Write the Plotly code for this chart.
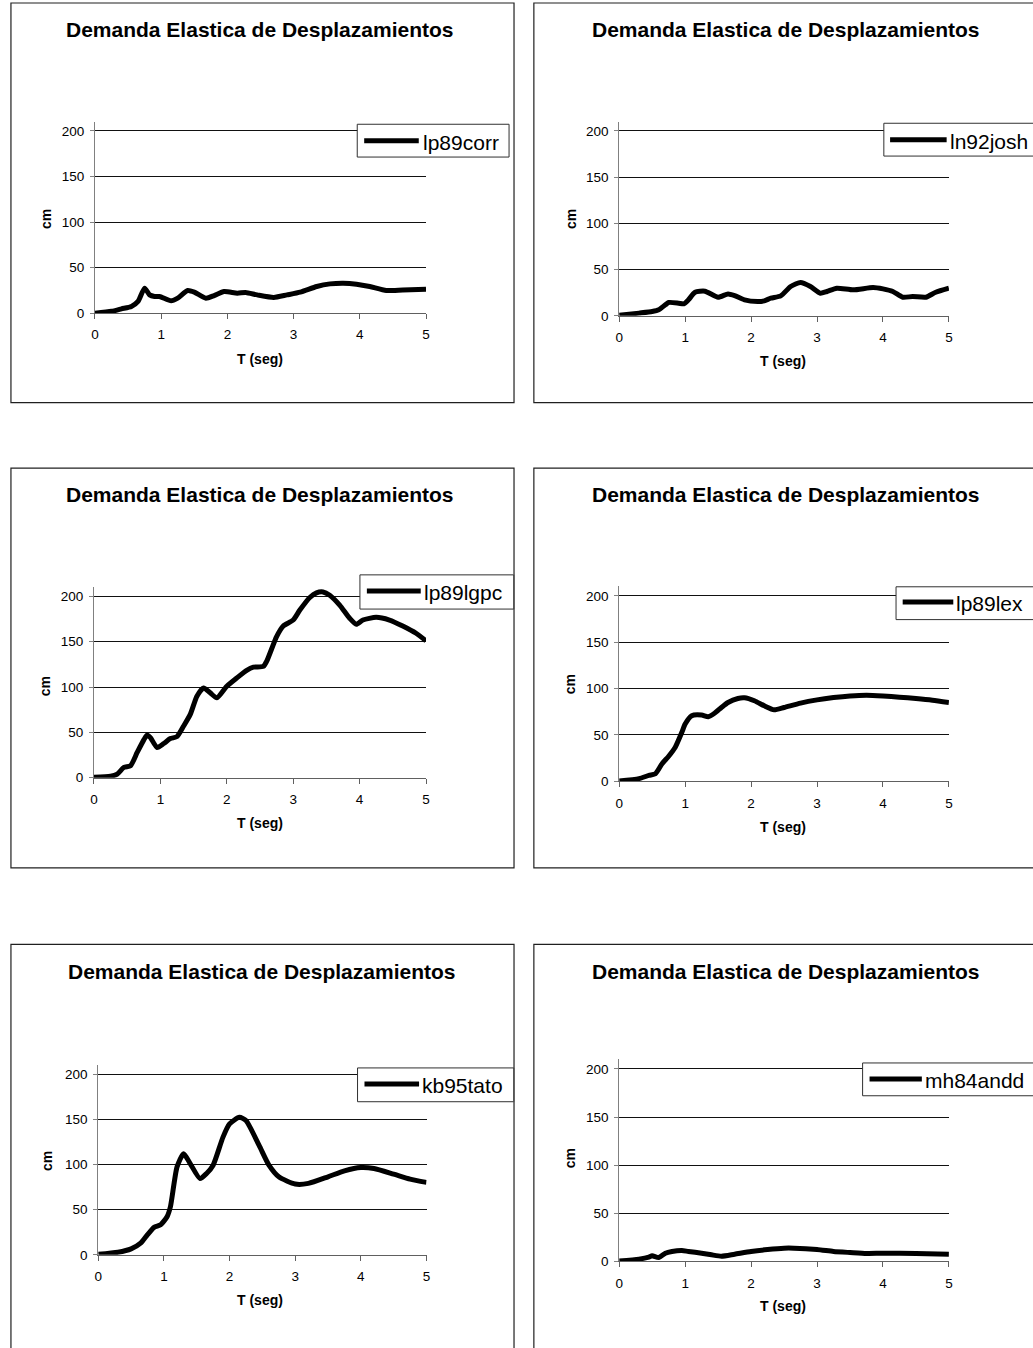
import plotly.graph_objects as go

# ---------------- data ----------------
TITLE = "Demanda Elastica de Desplazamientos"
X_LABEL = "T (seg)"
Y_LABEL = "cm"
X_TICKS = [0, 1, 2, 3, 4, 5]
Y_TICKS = [0, 50, 100, 150, 200]
SERIES_NAMES = ["lp89corr", "ln92josh", "lp89lgpc", "lp89lex", "kb95tato", "mh84andd"]

t_lp89corr = [0, 0.25, 0.4, 0.55, 0.65, 0.75, 0.825, 0.9, 0.975, 1.15, 1.25, 1.4, 1.5, 1.675, 1.8,
              1.95, 2.15, 2.275, 2.45, 2.7, 2.9, 3.1, 3.35, 3.55, 3.75, 3.95, 4.15, 4.4, 4.65, 5.0]
d_lp89corr = [0, 2.0, 4.7, 7.3, 12.8, 27.4, 20.0, 18.3, 18.3, 13.5, 16.4, 24.8, 23.0, 16.4, 19.3,
              23.7, 21.9, 22.6, 20.0, 17.2, 20.0, 23.0, 29.2, 32.1, 32.9, 31.8, 29.2, 24.8, 25.5, 26.3]

t_ln92josh = [0, 0.3, 0.5, 0.6, 0.7, 0.75, 0.9, 0.98, 1.05, 1.15, 1.3, 1.5, 1.65, 1.75, 1.9, 2.1,
              2.2, 2.3, 2.45, 2.6, 2.75, 2.9, 3.05, 3.15, 3.3, 3.55, 3.85, 4.0, 4.15, 4.3, 4.45,
              4.65, 4.8, 5.0]
d_ln92josh = [0.5, 2.9, 4.7, 6.5, 11.9, 14.4, 13.7, 13.0, 17.3, 25.5, 26.6, 20.1, 23.7, 21.9, 17.3,
              15.5, 16.2, 19.1, 21.6, 31.7, 36.0, 31.7, 24.5, 26.3, 29.9, 28.1, 30.6, 29.1, 26.3,
              20.1, 20.9, 20.1, 25.5, 29.9]

t_lp89lgpc = [0, 0.25, 0.35, 0.45, 0.55, 0.65, 0.75, 0.8, 0.85, 0.95, 1.05, 1.15, 1.25, 1.35, 1.45,
              1.55, 1.65, 1.75, 1.85, 2.0, 2.15, 2.3, 2.4, 2.55, 2.6, 2.75, 2.85, 3.0, 3.1, 3.25,
              3.35, 3.45, 3.55, 3.7, 3.85, 3.95, 4.05, 4.25, 4.45, 4.65, 4.85, 5.0]
d_lp89lgpc = [0.5, 1.5, 4.0, 11.3, 13.2, 27.8, 41.7, 47.2, 44.2, 33.3, 37.7, 43.1, 45.3, 57.0, 69.8,
              89.9, 99.1, 93.6, 88.1, 100.9, 110.0, 118.5, 122.0, 122.8, 128.3, 155.7, 167.4,
              174.0, 185.0, 198.9, 204.0, 205.0, 201.4, 190.5, 175.9, 169.3, 174.0, 177.0, 174.0,
              167.4, 159.4, 151.0]

t_lp89lex = [0, 0.3, 0.45, 0.55, 0.65, 0.75, 0.85, 0.95, 1.0, 1.1, 1.25, 1.35, 1.45, 1.55, 1.65,
             1.8, 1.9, 2.05, 2.2, 2.35, 2.5, 2.75, 3.0, 3.25, 3.5, 3.75, 4.0, 4.25, 4.5, 4.75, 5.0]
d_lp89lex = [0.5, 2.9, 6.4, 8.2, 18.9, 27.1, 36.8, 52.9, 61.8, 70.7, 71.4, 69.6, 73.6, 79.6, 85.0,
             89.3, 90.0, 86.8, 81.4, 77.1, 79.6, 84.3, 87.8, 90.3, 92.1, 92.9, 92.1, 90.7, 89.3,
             87.5, 85.0]

t_kb95tato = [0, 0.3, 0.5, 0.65, 0.75, 0.85, 0.95, 1.05, 1.1, 1.2, 1.3, 1.4, 1.55, 1.65, 1.75, 1.9,
              2.0, 2.15, 2.25, 2.45, 2.6, 2.75, 3.0, 3.2, 3.5, 3.75, 4.0, 4.2, 4.5, 4.75, 5.0]
d_kb95tato = [0.5, 2.9, 6.6, 13.2, 22.3, 30.4, 33.3, 42.5, 53.5, 97.4, 112.0, 101.1, 84.6, 90.1,
              99.3, 130.4, 145.0, 152.4, 148.7, 121.2, 99.3, 86.4, 78.4, 79.1, 86.4, 93.0, 96.7,
              95.6, 89.4, 83.9, 80.2]

t_mh84andd = [0, 0.3, 0.45, 0.5, 0.6, 0.7, 0.8, 0.95, 1.05, 1.25, 1.4, 1.55, 1.75, 2.0, 2.25, 2.5,
              2.65, 3.0, 3.25, 3.5, 3.75, 4.0, 4.5, 5.0]
d_mh84andd = [0.5, 2.4, 4.5, 5.9, 4.1, 8.6, 10.4, 11.4, 10.4, 8.6, 6.9, 5.5, 7.6, 10.4, 12.4, 13.8,
              13.8, 12.4, 10.4, 9.3, 8.3, 8.6, 8.3, 7.6]

SERIES_T = [t_lp89corr, t_ln92josh, t_lp89lgpc, t_lp89lex, t_kb95tato, t_mh84andd]
SERIES_D = [d_lp89corr, d_ln92josh, d_lp89lgpc, d_lp89lex, d_kb95tato, d_mh84andd]

# ---------------- layout geometry (pixels) ----------------
W, H = 1033, 1348
FONT = "Liberation Sans, Arial, sans-serif"
Y_MAX = 210

# per panel: frame box, plot area (x0,x1,ytop,ybottom), title, y-label, x-label, legend box, legend line, text x
PANELS = [
    dict(box=(7, 3, 514, 405), plot=(91.7, 425.3, 122.5, 315.0), title=(258, 30),
         ylab=(41.7, 220), xlab=(258, 361), lbox=(356, 125, 509, 158), lline=(363, 418, 141.7), ltext=420),
    dict(box=(534, 3, 1045, 405), plot=(620.0, 952.3, 122.4, 317.7), title=(788, 30),
         ylab=(570.7, 220), xlab=(785, 363), lbox=(886.7, 124, 1045, 157), lline=(893, 950, 140.5), ltext=951),
    dict(box=(7, 471, 514, 873), plot=(90.7, 425.3, 590.9, 782.3), title=(258, 497),
         ylab=(41.7, 690), xlab=(258, 828), lbox=(358.7, 578.3, 513.7, 612.7), lline=(365.7, 420, 594.5), ltext=421),
    dict(box=(534, 471, 1045, 873), plot=(620.0, 952.3, 590.0, 786.0), title=(788, 497),
         ylab=(570.7, 688), xlab=(785, 831.7), lbox=(899, 590.3, 1045, 623.3), lline=(905.7, 956.7, 605.5), ltext=957),
    dict(box=(7, 950, 514, 1360), plot=(95.0, 425.8, 1071.6, 1262.3), title=(260, 977.5),
         ylab=(43.3, 1168), xlab=(258, 1308), lbox=(356.3, 1074.3, 513.7, 1108.3), lline=(363.3, 418.3, 1090.5), ltext=419),
    dict(box=(534, 950, 1045, 1360), plot=(620.0, 952.3, 1065.6, 1269.0), title=(788, 977.5),
         ylab=(570.7, 1165), xlab=(785, 1314), lbox=(865.3, 1069.3, 1045, 1102.3), lline=(872.3, 925, 1085.5), ltext=926),
]


def px(x):
    return x / W


def py(y):
    return 1 - y / H


fig = go.Figure()
shapes = []
annotations = []
layout_axes = {}

for i, (p, name, tt, dd) in enumerate(zip(PANELS, SERIES_NAMES, SERIES_T, SERIES_D)):
    k = "" if i == 0 else str(i + 1)
    fig.add_trace(go.Scatter(
        x=tt, y=dd, name=name, mode="lines", showlegend=False, cliponaxis=False,
        line=dict(color="black", width=5, shape="spline", smoothing=0.6),
        xaxis="x" + k, yaxis="y" + k,
    ))
    x0, x1, ytop, ybot = p["plot"]
    layout_axes["xaxis" + k] = dict(
        domain=[px(x0), px(x1)], anchor="y" + k, range=[0, 5], tickvals=X_TICKS,
        showgrid=False, zeroline=False, showline=True, linecolor="#606060", linewidth=1,
        ticks="outside", ticklen=5, tickcolor="#606060", ticklabelstandoff=4,
        tickfont=dict(family=FONT, size=13.5, color="black"), fixedrange=True,
    )
    layout_axes["yaxis" + k] = dict(
        domain=[py(ybot), py(ytop)], anchor="x" + k, range=[0, Y_MAX], tickvals=Y_TICKS,
        showgrid=True, gridcolor="#111111", gridwidth=1, zeroline=False,
        showline=True, linecolor="#808080", linewidth=1,
        ticks="outside", ticklen=4, tickcolor="#808080", ticklabelstandoff=3,
        tickfont=dict(family=FONT, size=13.5, color="black"), fixedrange=True,
    )
    # frame
    bx0, by0, bx1, by1 = p["box"]
    shapes.append(dict(type="rect", xref="paper", yref="paper", x0=px(bx0), x1=px(bx1),
                       y0=py(by1), y1=py(by0), line=dict(color="#202020", width=1.2),
                       fillcolor="rgba(0,0,0,0)", layer="below"))
    # legend box and line
    lx0, ly0, lx1, ly1 = p["lbox"]
    shapes.append(dict(type="rect", xref="paper", yref="paper", x0=px(lx0), x1=px(lx1),
                       y0=py(ly1), y1=py(ly0), line=dict(color="#303030", width=1),
                       fillcolor="white", layer="above"))
    ax0, ax1, ay = p["lline"]
    shapes.append(dict(type="line", xref="paper", yref="paper", x0=px(ax0), x1=px(ax1),
                       y0=py(ay), y1=py(ay), line=dict(color="black", width=5), layer="above"))
    annotations.append(dict(text=name, xref="paper", yref="paper", x=px(p["ltext"]), y=py(ay + 1.5),
                            xanchor="left", yanchor="middle", showarrow=False,
                            font=dict(family=FONT, size=21, color="black")))
    # chart title
    annotations.append(dict(text="<b>" + TITLE + "</b>", xref="paper", yref="paper",
                            x=px(p["title"][0]), y=py(p["title"][1]), xanchor="center",
                            yanchor="middle", showarrow=False,
                            font=dict(family=FONT, size=21, color="black")))
    # axis titles
    annotations.append(dict(text="<b>" + Y_LABEL + "</b>", xref="paper", yref="paper",
                            x=px(p["ylab"][0]), y=py(p["ylab"][1]), xanchor="center",
                            yanchor="middle", showarrow=False, textangle=-90,
                            font=dict(family=FONT, size=14, color="black")))
    annotations.append(dict(text="<b>" + X_LABEL + "</b>", xref="paper", yref="paper",
                            x=px(p["xlab"][0]), y=py(p["xlab"][1]), xanchor="center",
                            yanchor="middle", showarrow=False,
                            font=dict(family=FONT, size=14, color="black")))

fig.update_layout(
    width=W, height=H, margin=dict(l=0, r=0, t=0, b=0),
    paper_bgcolor="white", plot_bgcolor="white",
    showlegend=False, shapes=shapes, annotations=annotations,
    font=dict(family=FONT, color="black"),
    **layout_axes,
)

fig.write_html(
    "out.html",
    config={"displayModeBar": False},
    post_script="document.body.style.margin='0';document.body.style.overflow='hidden';",
)
